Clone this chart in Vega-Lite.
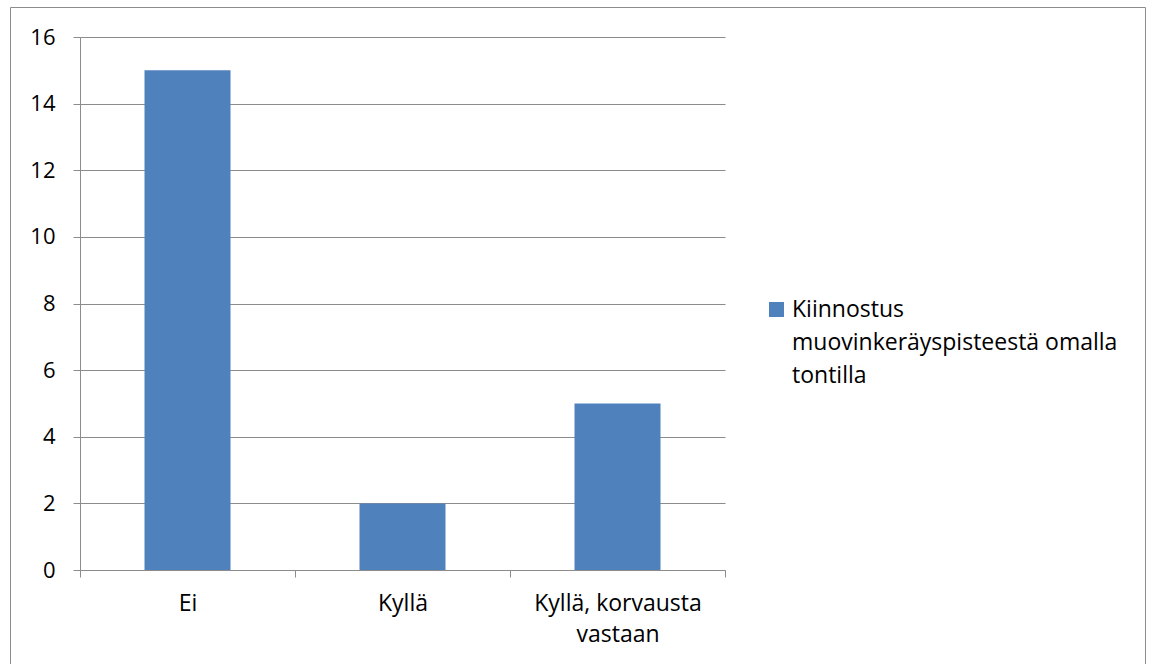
{
  "$schema": "https://vega.github.io/schema/vega-lite/v6.json",
  "width": 1135,
  "height": 657,
  "autosize": {"type": "none"},
  "padding": {"left": 10, "top": 7, "right": 7, "bottom": 0},
  "background": "white",
  "config": {
    "view": {"stroke": "#8c8c8c", "strokeWidth": 1},
    "font": "Open Sans",
    "style": {"guide-label": {"lineHeight": 33}}
  },
  "data": {"values": [
    {"kategoria": "Ei", "arvo": 15, "sarja": "Kiinnostus muovinkeräyspisteestä omalla tontilla"},
    {"kategoria": "Kyllä", "arvo": 2, "sarja": "Kiinnostus muovinkeräyspisteestä omalla tontilla"},
    {"kategoria": "Kyllä, korvausta vastaan", "arvo": 5, "sarja": "Kiinnostus muovinkeräyspisteestä omalla tontilla"}
  ]},
  "mark": {"type": "bar", "width": {"band": 0.4}},
  "encoding": {
    "x": {
      "field": "kategoria", "type": "nominal", "sort": null,
      "scale": {"range": [70, 715], "paddingInner": 0, "paddingOuter": 0},
      "axis": {
        "title": null, "orient": "bottom", "offset": -94, "labelAngle": 0,
        "tickBand": "extent", "tickSize": 7, "tickColor": "#8c8c8c", "domainColor": "#8c8c8c",
        "labelPadding": 15, "labelFontSize": 23, "labelColor": "#000", "labelFont": "Open Sans",
        "labelLineHeight": 31, "labelLimit": 0, "grid": false,
        "labelExpr": "datum.value == 'Kyllä, korvausta vastaan' ? ['Kyllä, korvausta', 'vastaan'] : datum.value"
      }
    },
    "y": {
      "field": "arvo", "type": "quantitative",
      "scale": {"domain": [0, 16], "range": [563, 30], "nice": false, "zero": true},
      "axis": {
        "title": null, "offset": -70, "values": [0, 2, 4, 6, 8, 10, 12, 14, 16],
        "tickSize": 7, "tickColor": "#8c8c8c", "domainColor": "#8c8c8c",
        "grid": true, "gridColor": "#8c8c8c", "gridOpacity": 1,
        "labelPadding": 18, "labelFontSize": 22, "labelColor": "#000", "labelFont": "Open Sans"
      }
    },
    "color": {
      "field": "sarja", "type": "nominal",
      "scale": {"range": ["#4F81BD"]},
      "legend": {
        "title": null, "orient": "none", "legendX": 755, "legendY": 291,
        "symbolType": "square", "symbolSize": 225, "symbolStrokeWidth": 0, "symbolOpacity": 1,
        "labelFontSize": 23, "labelColor": "#000", "labelFont": "Open Sans",
        "labelOffset": 4, "labelLimit": 0, "padding": 0,
        "labelBaseline": "middle",
        "labelExpr": "['Kiinnostus', 'muovinkeräyspisteestä omalla', 'tontilla']"
      }
    }
  }
}
